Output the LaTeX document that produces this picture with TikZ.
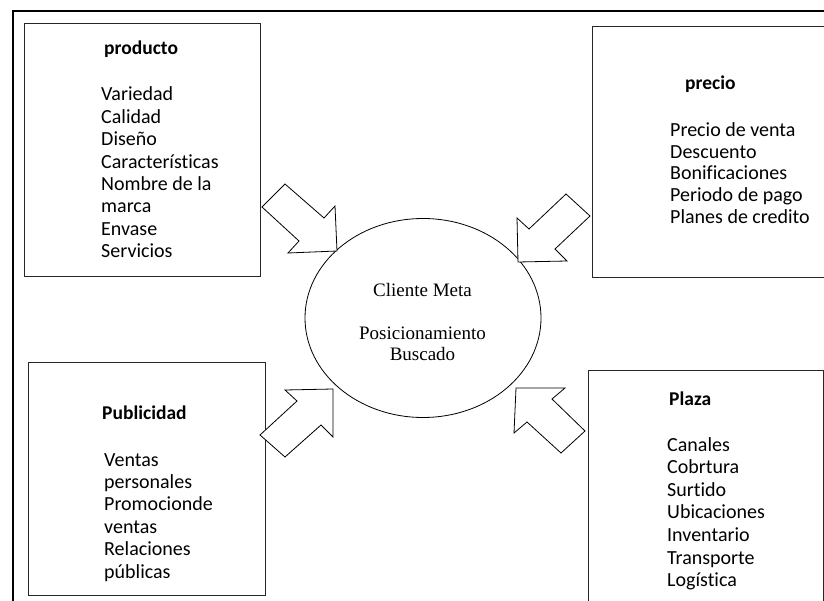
\documentclass[tikz,border=0pt]{standalone}
\usepackage{fontspec}
\setmainfont{Liberation Serif}
\newfontfamily\calib[Ligatures=NoCommon]{Carlito}
\usetikzlibrary{shapes.geometric}
\begin{document}
\begin{tikzpicture}[x=1pt,y=-1pt,
  boxline/.style={draw=black!85,line width=0.9pt},
  frameline/.style={draw=black,line width=1.8pt},
  item/.style={anchor=base west,inner sep=0pt,font=\calib\fontsize{20}{22}\selectfont},
  head/.style={anchor=base west,inner sep=0pt,font=\calib\bfseries\fontsize{19.5}{22}\selectfont},
  ctext/.style={anchor=base,inner sep=0pt,font=\fontsize{19}{21}\selectfont},
  blockarrow/.style={draw=black,line width=0.8pt,fill=white,line join=miter}]
\useasboundingbox (0,0) rectangle (824,601);
% outer frame (partly visible)
\draw[frameline] (13,601) -- (13,11) -- (824,11);
% boxes
\node[boxline,rectangle,anchor=north west,minimum width=236pt,minimum height=253pt,inner sep=0pt] (prodbox) at (24,23) {};
\node[boxline,rectangle,anchor=north west,minimum width=240pt,minimum height=251pt,inner sep=0pt] (precbox) at (592,26) {};
\node[boxline,rectangle,anchor=north west,minimum width=237pt,minimum height=233pt,inner sep=0pt] (pubbox) at (28,362) {};
\node[boxline,rectangle,anchor=north west,minimum width=235pt,minimum height=250pt,inner sep=0pt] (plazbox) at (588,370) {};
% ellipse
\node[ellipse,draw=black,line width=0.8pt,minimum width=236pt,minimum height=199pt,inner sep=0pt] (cli) at (423,318) {};
\node[ctext] (c1) at (422.5,297) {Cliente Meta};
\node[ctext] (c2) at (422.5,339) {Posicionamiento};
\node[ctext] (c3) at (422.5,360) {Buscado};
% producto
\node[head] (prodh) at (104,55) {producto};
\foreach \t [count=\i] in {Variedad,Calidad,Diseño,Características,Nombre de la,marca,Envase,Servicios}
  \node[item] (prod\i) at (101,{101+22.4*(\i-1)}) {\t};
% precio
\node[head] (prech) at (685,90) {precio};
\foreach \t [count=\i] in {Precio de venta,Descuento,Bonificaciones,Periodo de pago,Planes de credito}
  \node[item] (prec\i) at (670,{136.5+21.7*(\i-1)}) {\t};
% publicidad
\node[head] (pubh) at (102,419) {Publicidad};
\foreach \t [count=\i] in {Ventas,personales,Promocionde,ventas,Relaciones,públicas}
  \node[item] (pub\i) at (104,{466+22.4*(\i-1)}) {\t};
% plaza
\node[head] (plazh) at (669,405) {Plaza};
\foreach \t [count=\i] in {Canales,Cobrtura,Surtido,Ubicaciones,Inventario,Transporte,Logística}
  \node[item] (plaz\i) at (667,{451+22.6*(\i-1)}) {\t};
% block arrows
\draw[blockarrow] (262,207) -- (285,184) -- (324,218) -- (335,206) -- (337,251) -- (288,253) -- (299,241) -- cycle;
\draw[blockarrow] (590,216) -- (566,194) -- (529,229) -- (517,218) -- (518,262) -- (567,261) -- (555,249) -- cycle;
\draw[blockarrow] (260,435) -- (285,457) -- (321,425) -- (333,437) -- (333,389) -- (285,390) -- (297,401) -- cycle;
\draw[blockarrow] (585,431) -- (561,453) -- (527,422) -- (514,433) -- (516,388) -- (565,388) -- (552,399) -- cycle;
\end{tikzpicture}
\end{document}
